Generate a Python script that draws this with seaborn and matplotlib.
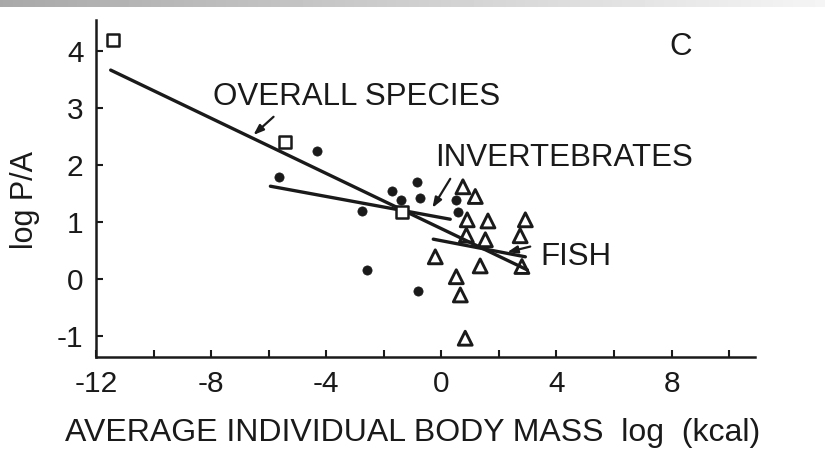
import numpy as np
import pandas as pd
import matplotlib
matplotlib.use("Agg")
import matplotlib.pyplot as plt
from matplotlib.ticker import MultipleLocator
import seaborn as sns

# ---- data ----
sq_x = [-11.42, -5.42, -1.35]
sq_y = [4.20, 2.41, 1.18]

dot_x = [-4.31, -5.63, -2.74, -1.70, -1.39, -0.85, -0.73, -2.58, -0.82, 0.52, 0.59]
dot_y = [2.25, 1.79, 1.20, 1.55, 1.39, 1.70, 1.42, 0.15, -0.21, 1.38, 1.18]

tri_x = [0.75, 1.18, 0.90, 1.62, 2.92, 2.74, 0.87, 1.53, -0.21, 1.35, 2.80, 0.52, 0.66, 0.83]
tri_y = [1.62, 1.45, 1.04, 1.02, 1.04, 0.76, 0.77, 0.69, 0.39, 0.23, 0.22, 0.04, -0.28, -1.04]

overall_x = [-11.49, 2.99]
overall_y = [3.67, 0.16]
invert_x = [-5.94, 0.31]
invert_y = [1.63, 1.05]
fish_x = [-0.28, 2.92]
fish_y = [0.70, 0.39]

x_ticks = [-12, -8, -4, 0, 4, 8]
y_ticks = [-1, 0, 1, 2, 3, 4]

# ---- style ----
sns.set_style("ticks")
plt.rcParams["font.family"] = ["Liberation Sans", "DejaVu Sans"]
ink = "#1a1a1a"

fig = plt.figure(figsize=(8.25, 4.58), dpi=100)

# top gradient strip
gax = fig.add_axes([0, 1 - 7 / 458, 1, 7 / 458])
grad = np.linspace(0.66, 0.96, 256)[None, :]
gax.imshow(grad, aspect="auto", cmap="gray", vmin=0, vmax=1)
gax.set_axis_off()

ax = fig.add_axes([96 / 825, 1 - 357 / 458, (755 - 96) / 825, (357 - 20) / 458])

pts = pd.concat([
    pd.DataFrame({"x": sq_x, "y": sq_y, "g": "sq"}),
    pd.DataFrame({"x": dot_x, "y": dot_y, "g": "dot"}),
    pd.DataFrame({"x": tri_x, "y": tri_y, "g": "tri"}),
])

lines = pd.concat([
    pd.DataFrame({"x": overall_x, "y": overall_y, "g": "overall"}),
    pd.DataFrame({"x": invert_x, "y": invert_y, "g": "invert"}),
    pd.DataFrame({"x": fish_x, "y": fish_y, "g": "fish"}),
])

for g in ["overall", "invert", "fish"]:
    d = lines[lines.g == g]
    sns.lineplot(data=d, x="x", y="y", color=ink, lw=2.4, ax=ax, sort=False,
                 estimator=None)

sns.scatterplot(data=pts[pts.g == "sq"], x="x", y="y", marker="s", s=72,
                facecolor="white", edgecolor=ink, linewidth=1.8, ax=ax, zorder=3)
sns.scatterplot(data=pts[pts.g == "dot"], x="x", y="y", marker="o", s=44,
                color=ink, edgecolor=ink, linewidth=0.5, ax=ax, zorder=3)
sns.scatterplot(data=pts[pts.g == "tri"], x="x", y="y", marker="^", s=100,
                facecolor="none", edgecolor=ink, linewidth=2.1, ax=ax, zorder=3)

ax.set_xlim(-12, 10.9)
ax.set_ylim(-1.37, 4.55)
ax.set_xticks(x_ticks)
ax.set_xticklabels([str(v) for v in x_ticks])
ax.xaxis.set_minor_locator(MultipleLocator(2))
ax.set_yticks(y_ticks)
ax.set_yticklabels([str(v) for v in y_ticks])
ax.tick_params(axis="both", which="both", direction="in", length=5, width=1.5,
               color=ink, labelsize=21.5, labelcolor=ink, pad=9)
sns.despine(ax=ax)
for s in ["left", "bottom"]:
    ax.spines[s].set_linewidth(1.8)
    ax.spines[s].set_color(ink)

ax.set_xlabel("AVERAGE INDIVIDUAL BODY MASS  log  (kcal)", fontsize=23, color=ink)
ax.xaxis.set_label_coords(0.48, -0.18)
ax.set_ylabel("log P/A", fontsize=22, color=ink)
ax.yaxis.set_label_coords(-0.085, 0.466)

# labels and arrows
ax.text(-7.95, 3.20, "OVERALL SPECIES", fontsize=22.5, color=ink, ha="left", va="center")
ax.text(-0.21, 2.13, "INVERTEBRATES", fontsize=22.5, color=ink, ha="left", va="center")
ax.text(3.44, 0.39, "FISH", fontsize=22.5, color=ink, ha="left", va="center")
ax.text(8.3, 4.08, "C", fontsize=22.5, color=ink, ha="center", va="center")

arrow = dict(arrowstyle="-|>,head_length=0.6,head_width=0.22", color=ink, lw=1.6,
             shrinkA=0, shrinkB=0)
ax.annotate("", xy=(-6.53, 2.53), xytext=(-5.83, 2.85), arrowprops=arrow)
ax.annotate("", xy=(-0.31, 1.25), xytext=(0.31, 1.76), arrowprops=arrow)
ax.annotate("", xy=(2.29, 0.47), xytext=(3.09, 0.57), arrowprops=arrow)

fig.savefig("out.png", dpi=100)
